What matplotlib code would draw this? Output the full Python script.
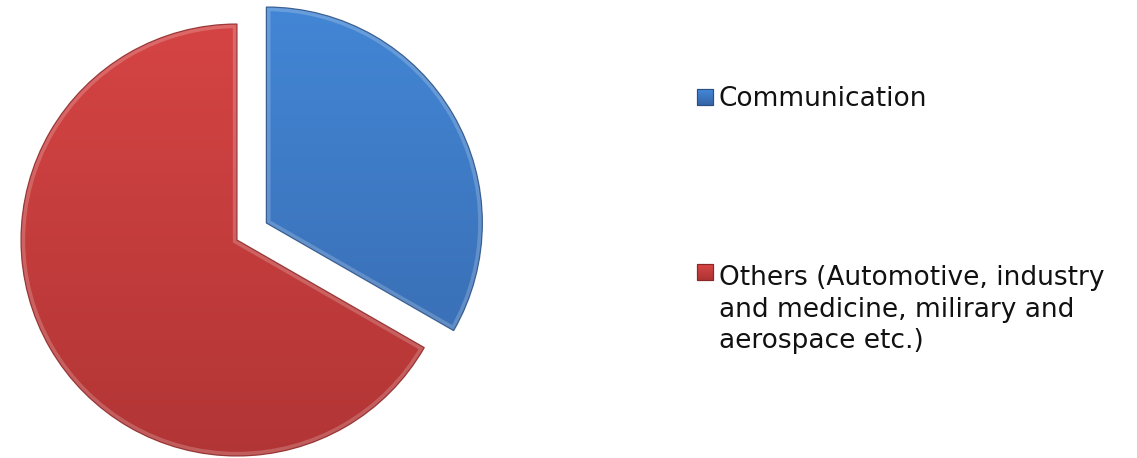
import numpy as np
import matplotlib
matplotlib.use("Agg")
import matplotlib.pyplot as plt
from matplotlib.patches import Rectangle, PathPatch
from matplotlib.colors import LinearSegmentedColormap

# ---- data ----
categories = ["Communication",
              "Others (Automotive, industry and medicine, milirary and aerospace etc.)"]
legend_labels = ["Communication",
                 "Others (Automotive, industry\nand medicine, milirary and\naerospace etc.)"]
shares = [33.3, 66.7]
explode_frac = [0.157, 0.0]

top_colors = ["#4489d9", "#da4646"]
bottom_colors = ["#3564a6", "#ad3333"]
edge_colors = ["#2b4f80", "#8a2727"]

W, H = 1137, 458
fig = plt.figure(figsize=(W / 100, H / 100), dpi=100)
ax = fig.add_axes([0, 0, 1, 1])

cx, cy, R = 237, 218, 216
wedges, _ = ax.pie(shares, explode=[e * R for e in explode_frac], startangle=90,
                   counterclock=False, center=(cx, cy), radius=R, colors=top_colors,
                   wedgeprops=dict(linewidth=0))

grad = np.linspace(0, 1, 256).reshape(-1, 1)
ext = (cx - R - 60, cx + R + 60, cy - R - 60, cy + R + 60)
for w, c0, c1, ec in zip(wedges, top_colors, bottom_colors, edge_colors):
    cmap = LinearSegmentedColormap.from_list("g", [c1, c0])
    im = ax.imshow(grad, extent=ext, origin="lower", cmap=cmap, aspect="auto",
                   zorder=w.get_zorder() + 0.1, interpolation="bilinear")
    im.set_clip_path(w)
    path = w.get_path()
    bevel = PathPatch(path, fill=False, edgecolor="white", alpha=0.2, lw=6,
                      zorder=w.get_zorder() + 0.2, transform=w.get_transform())
    ax.add_patch(bevel)
    bevel.set_clip_path(w)
    ax.add_patch(PathPatch(path, fill=False, edgecolor=ec, lw=0.9, alpha=0.8,
                           zorder=w.get_zorder() + 0.3, transform=w.get_transform()))

# ---- legend (manual) ----
text_x = 719
first_baselines = [106, 285]
line_step = 31.7
marker_tops = [89, 264]
for lab, c0, c1, ec, b, mt in zip(legend_labels, top_colors, bottom_colors,
                                  edge_colors, first_baselines, marker_tops):
    rect = Rectangle((697, H - mt - 16), 16, 16, facecolor=c0, edgecolor=ec, lw=0.8,
                     zorder=3)
    ax.add_patch(rect)
    cmap = LinearSegmentedColormap.from_list("g", [c1, c0])
    im = ax.imshow(grad, extent=(697, 713, H - mt - 16, H - mt), origin="lower",
                   cmap=cmap, aspect="auto", zorder=3.1)
    im.set_clip_path(rect)
    ax.add_patch(Rectangle((697, H - mt - 16), 16, 16, fill=False, edgecolor=ec,
                           lw=0.8, zorder=3.2))
    for i, line in enumerate(lab.split("\n")):
        ax.text(text_x, H - (b + i * line_step), line, fontsize=19, va="baseline",
                ha="left", family="DejaVu Sans", color="#111111")

ax.set_xlim(0, W)
ax.set_ylim(0, H)
ax.axis("off")

fig.savefig("out.png", dpi=100, facecolor="white")
